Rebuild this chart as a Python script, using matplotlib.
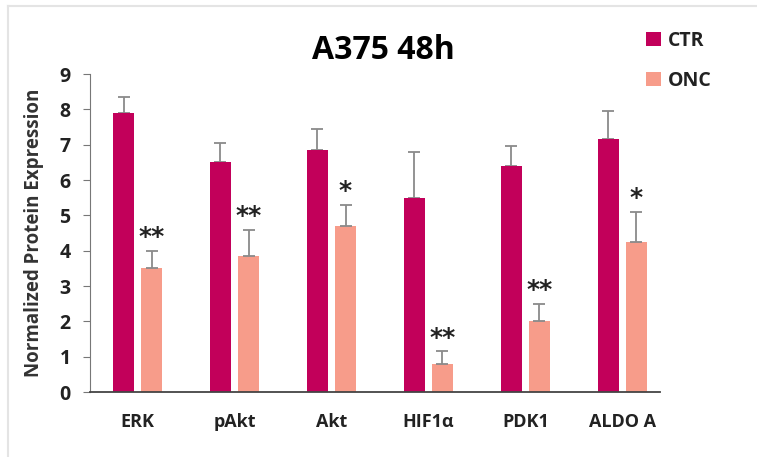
import matplotlib
matplotlib.use("Agg")
import matplotlib.pyplot as plt
import numpy as np
from matplotlib.lines import Line2D

categories = ["ERK", "pAkt", "Akt", "HIF1α", "PDK1", "ALDO A"]
ctr_values = [7.9, 6.5, 6.85, 5.5, 6.4, 7.15]
ctr_errors = [0.45, 0.55, 0.6, 1.3, 0.55, 0.8]
onc_values = [3.5, 3.85, 4.7, 0.8, 2.0, 4.25]
onc_errors = [0.5, 0.75, 0.6, 0.35, 0.5, 0.85]
significance = ["**", "**", "*", "**", "**", "*"]
y_ticks = [0, 1, 2, 3, 4, 5, 6, 7, 8, 9]

CTR_COLOR = "#C2005A"
ONC_COLOR = "#F79C8A"
TEXT_COLOR = "#222222"

plt.rcParams["font.family"] = ["Open Sans", "DejaVu Sans"]

fig = plt.figure(figsize=(7.57, 4.57), dpi=100)
ax = fig.add_axes([0.119, 0.142, 0.753, 0.696])

# light frame lines along the top and left of the panel
fig.lines.append(Line2D([0.011, 1.0], [0.986, 0.986], transform=fig.transFigure,
                        color="#e4e4e4", linewidth=1.5))
fig.lines.append(Line2D([0.011, 0.011], [0.0, 0.986], transform=fig.transFigure,
                        color="#e4e4e4", linewidth=1.5))

x = np.arange(len(categories))
width = 0.22
offset = 0.145

ax.bar(x - offset, ctr_values, width, color=CTR_COLOR, label="CTR", zorder=2)
ax.bar(x + offset, onc_values, width, color=ONC_COLOR, label="ONC", zorder=2)
ax.errorbar(x - offset, ctr_values, yerr=[np.zeros(len(x)), ctr_errors], fmt="none",
            ecolor="#8a8a8a", elinewidth=1.3, capsize=4, capthick=1.3, zorder=1)
ax.errorbar(x + offset, onc_values, yerr=[np.zeros(len(x)), onc_errors], fmt="none",
            ecolor="#8a8a8a", elinewidth=1.3, capsize=4, capthick=1.3, zorder=3)

for xi, v, e, s in zip(x + offset, onc_values, onc_errors, significance):
    ax.text(xi, v + e + 0.05, s, ha="center", va="bottom", fontsize=18,
            fontweight="bold", color=TEXT_COLOR, family="DejaVu Sans")

ax.set_xlim(-0.49, 5.39)
ax.set_ylim(0, 9)
ax.set_yticks(y_ticks)
ax.set_xticks(x)
ax.set_xticklabels(categories)
for s in ["top", "right"]:
    ax.spines[s].set_visible(False)
ax.spines["left"].set_color("#777777")
ax.spines["bottom"].set_color("#444444")
ax.spines["bottom"].set_linewidth(1.3)
ax.tick_params(axis="x", length=0, pad=15)
ax.tick_params(axis="y", length=5, color="#777777", pad=9)
for lab in ax.get_xticklabels():
    lab.set_fontweight("bold")
    lab.set_fontsize(13)
    lab.set_color(TEXT_COLOR)
for lab in ax.get_yticklabels():
    lab.set_fontweight("bold")
    lab.set_fontsize(14)
    lab.set_color(TEXT_COLOR)

ax.set_ylabel("Normalized Protein Expression", fontsize=13.5, fontweight="bold",
              color="#333333", labelpad=11)

fig.text(0.506, 0.89, "A375 48h", ha="center", va="center", fontsize=23,
         fontweight="bold", color="black")

leg = ax.legend(loc="upper left", bbox_to_anchor=(0.945, 1.19), frameon=False,
                handlelength=0.75, handleheight=0.75, handletextpad=0.35,
                labelspacing=1.0, prop={"weight": "bold", "size": 14})
for t in leg.get_texts():
    t.set_color(TEXT_COLOR)

fig.savefig("out.png", dpi=100)
